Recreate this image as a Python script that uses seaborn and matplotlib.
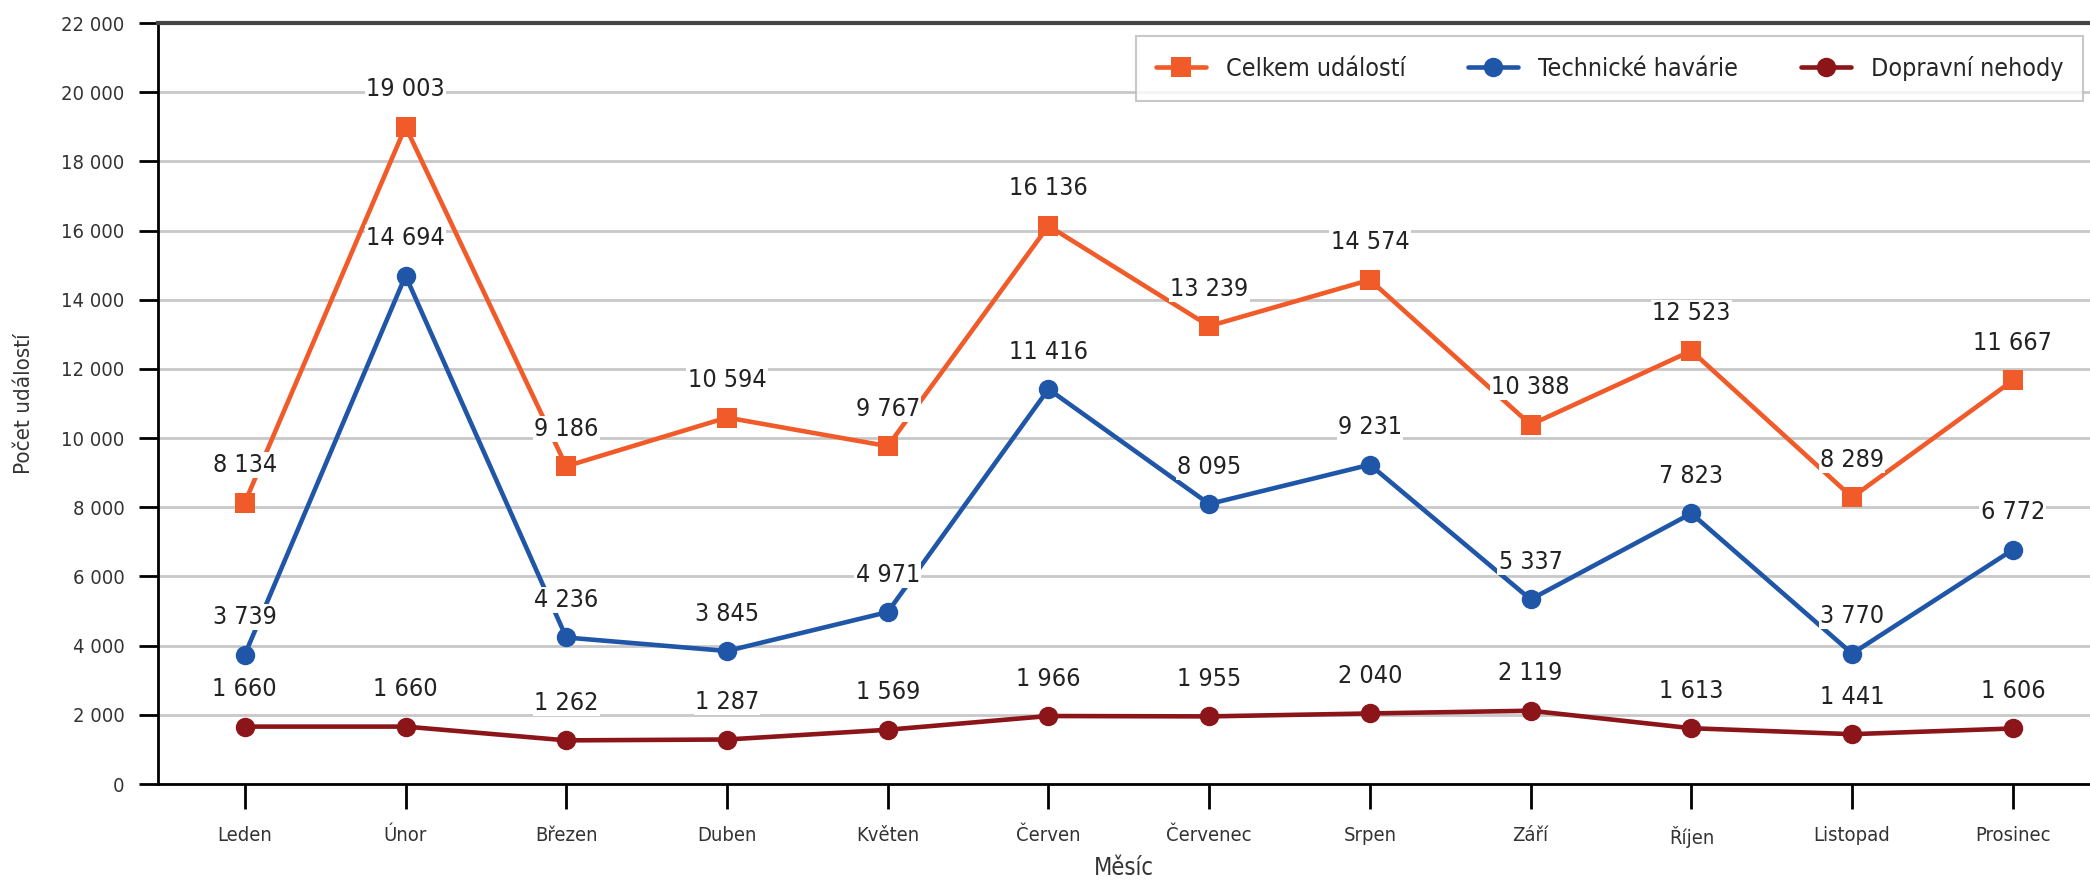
import pandas as pd
import seaborn as sns
import matplotlib.pyplot as plt

months = ["Leden", "Únor", "Březen", "Duben", "Květen", "Červen",
          "Červenec", "Srpen", "Září", "Říjen", "Listopad", "Prosinec"]
celkem = [8134, 19003, 9186, 10594, 9767, 16136, 13239, 14574, 10388, 12523, 8289, 11667]
technicke = [3739, 14694, 4236, 3845, 4971, 11416, 8095, 9231, 5337, 7823, 3770, 6772]
dopravni = [1660, 1660, 1262, 1287, 1569, 1966, 1955, 2040, 2119, 1613, 1441, 1606]

series_names = ["Celkem událostí", "Technické havárie", "Dopravní nehody"]
series_values = [celkem, technicke, dopravni]
colors = {"Celkem událostí": "#F15A29", "Technické havárie": "#1F56A8", "Dopravní nehody": "#8B1518"}
markers = {"Celkem událostí": "s", "Technické havárie": "o", "Dopravní nehody": "o"}

# long-form table for seaborn
records = []
for name, vals in zip(series_names, series_values):
    for m, v in zip(months, vals):
        records.append({"Měsíc": m, "Počet": v, "Série": name})
df = pd.DataFrame(records)

sns.set_style("white")
plt.rcParams['font.family'] = ['DejaVu Sans']
plt.rcParams['font.stretch'] = 'condensed'

fig = plt.figure(figsize=(20.9, 8.85), dpi=100)
ax = fig.add_axes([0.0756, 0.1141, 0.9244, 0.8599])

sns.lineplot(data=df, x="Měsíc", y="Počet", hue="Série", style="Série",
             palette=colors, markers=markers, dashes=False, markersize=14,
             linewidth=3.3, markeredgewidth=0, ax=ax, legend=False, sort=False)

# value labels
for name, vals in zip(series_names, series_values):
    for i, v in enumerate(vals):
        ax.annotate(f"{v:,}".replace(",", " "), (i, v), xytext=(0, 27),
                    textcoords="offset points", ha="center", va="center",
                    fontsize=18, color="#222222",
                    bbox=dict(boxstyle="square,pad=0.05", fc="white", ec="none"))

ax.set_ylim(0, 22000)
ax.set_yticks(range(0, 22001, 2000))
ax.set_yticklabels([f"{t:,}".replace(",", " ") for t in range(0, 22001, 2000)])
ax.set_xlim(-0.54, 11.48)
ax.grid(axis="y", color="#c8c8c8", linewidth=2)
ax.set_axisbelow(True)

for s in ["left", "bottom"]:
    ax.spines[s].set_color("black")
    ax.spines[s].set_linewidth(2)
ax.spines["top"].set_color("#444444")
ax.spines["top"].set_linewidth(3)
ax.spines["right"].set_visible(False)

ax.tick_params(axis="y", direction="out", length=14, width=2, color="black",
               labelsize=14.5, labelcolor="#333333", left=True, pad=10)
ax.tick_params(axis="x", direction="out", length=18, width=2, color="black",
               labelsize=14.5, labelcolor="#333333", bottom=True, pad=12)

ax.set_xlabel("Měsíc", fontsize=17, color="#333333", labelpad=6)
ax.set_ylabel("Počet událostí", fontsize=16, color="#333333", labelpad=20)

handles = [plt.Line2D([], [], color=colors[n], marker=markers[n], markersize=14,
                      linewidth=3.3, markeredgewidth=0) for n in series_names]
leg = fig.legend(handles, series_names, loc="upper right",
                 bbox_to_anchor=(0.9967, 0.9593), ncol=3, fontsize=18,
                 frameon=True, fancybox=False, edgecolor="#bbbbbb",
                 handlelength=2.0, columnspacing=2.5, borderpad=0.8,
                 borderaxespad=0)
leg.get_frame().set_linewidth(1.5)

fig.savefig("out.png", dpi=100)
